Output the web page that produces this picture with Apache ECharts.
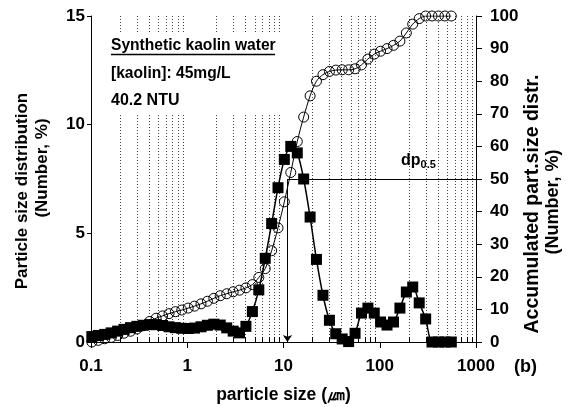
<!DOCTYPE html>
<html><head><meta charset="utf-8">
<script src="https://cdn.jsdelivr.net/npm/echarts@6/dist/echarts.min.js"></script>
<style>html,body{margin:0;padding:0;background:#fff;}#c{width:571px;height:407px;}</style>
</head><body><div id="c"></div>
<script>
// particle size bins (µm)
const sizes = [0.102,0.119,0.139,0.162,0.189,0.220,0.257,0.300,0.349,0.407,0.475,0.554,0.646,0.753,0.877,
  1.023,1.19,1.39,1.62,1.89,2.20,2.57,3.00,3.49,4.07,4.75,5.54,6.46,7.53,8.77,
  10.2,11.9,13.9,16.2,18.9,22.0,25.7,30.0,34.9,40.7,47.5,55.4,64.6,75.3,87.7,
  102,119,139,162,189,220,257,300,349,407,475,554];
// particle size distribution (Number, %) - left axis
const distribution = [0.25,0.30,0.35,0.42,0.50,0.58,0.66,0.72,0.77,0.80,0.80,0.76,0.70,0.66,0.63,
  0.62,0.64,0.70,0.77,0.82,0.78,0.65,0.50,0.42,0.72,1.40,2.40,3.85,5.45,7.10,
  8.40,9.00,8.70,7.50,5.75,3.80,2.15,1.00,0.38,0.14,0.02,0.40,1.33,1.56,1.33,
  0.92,0.78,0.92,1.56,2.30,2.53,1.80,1.06,0,0,0,0];
// accumulated particle size distribution (Number, %) - right axis
const accumulated = [0,0.5,1.0,1.4,2.0,2.7,3.3,4.0,5.0,6.3,7.3,8.0,8.7,9.3,9.8,
  10.4,11.0,11.7,12.5,13.4,14.2,14.8,15.4,15.9,16.6,17.6,19.8,22.5,28.0,35.0,
  43.0,52.0,61.5,69.0,75.5,80.0,82.0,83.0,83.4,83.5,83.5,83.8,85.0,86.8,88.3,
  89.2,90.0,91.0,92.3,94.8,97.5,99.2,100,100,100,100,100];
const xTickLabels = ['0.1','1','10','100','1000'];
const minorGrid = [0.2,0.3,0.4,0.5,0.6,0.7,0.8,0.9,2,3,4,5,6,7,8,9,20,30,40,50,60,70,80,90,200,300,400,500,600,700,800,900];
const dp50 = 11;
const FONT = 'Liberation Sans, Arial, sans-serif';

const chart = echarts.init(document.getElementById('c'), null, {renderer:'canvas'});
chart.setOption({
  animation:false,
  backgroundColor:'#fff',
  grid:{left:91, right:95, top:16, bottom:65, containLabel:false, outerBoundsMode:'none'},
  xAxis:{
    type:'log', min:0.1, max:1000, logBase:10,
    name:'particle size (㎛)', nameLocation:'middle', nameGap:44,
    nameTextStyle:{color:'#000', fontFamily:FONT, fontWeight:'bold', fontSize:17.5},
    axisLine:{lineStyle:{color:'#000', width:1}},
    axisTick:{show:true, length:6, lineStyle:{color:'#000'}},
    splitLine:{show:false},
    axisLabel:{color:'#000', fontFamily:FONT, fontWeight:'bold', fontSize:17, margin:16,
      formatter:function(v){ return xTickLabels[Math.round(Math.log10(v))+1]; }}
  },
  yAxis:[{
    type:'value', min:0, max:15, interval:5, position:'left',
    axisLine:{show:true, lineStyle:{color:'#000'}},
    axisTick:{show:true, length:4, lineStyle:{color:'#000'}},
    splitLine:{show:false},
    axisLabel:{color:'#000', fontFamily:FONT, fontWeight:'bold', fontSize:17, margin:6}
  },{
    type:'value', min:0, max:100, interval:10, position:'right',
    axisLine:{show:true, lineStyle:{color:'#000'}},
    axisTick:{show:true, length:6, lineStyle:{color:'#000'}},
    splitLine:{show:false},
    axisLabel:{color:'#000', fontFamily:FONT, fontWeight:'bold', fontSize:17, margin:14}
  }],
  graphic:{elements:[
    {type:'rect', z:5, shape:{x:105, y:34, width:181, height:79}, style:{fill:'#fff'}},
    {type:'text', z:6, left:111, top:38, style:{text:'Synthetic kaolin water', fill:'#000', font:'bold 15.6px '+FONT}},
    {type:'line', z:6, shape:{x1:111, y1:54.5, x2:275, y2:54.5}, style:{stroke:'#000', lineWidth:1.5}},
    {type:'text', z:6, left:111, top:66, style:{text:'[kaolin]: 45mg/L', fill:'#000', font:'bold 15.6px '+FONT}},
    {type:'text', z:6, left:111, top:93, style:{text:'40.2 NTU', fill:'#000', font:'bold 16px '+FONT}},
    {type:'text', z:6, left:401, top:153, style:{text:'{a|dp}{b|0.5}', rich:{a:{font:'bold 16px '+FONT, fill:'#000'}, b:{font:'bold 11px '+FONT, fill:'#000', padding:[8,0,0,0]}}}},
    {type:'text', z:6, left:514, top:358, style:{text:'(b)', fill:'#000', font:'bold 18px '+FONT}},
    {type:'text', z:6, x:22, y:191, rotation:Math.PI/2, style:{text:'Particle size distribution', fill:'#000', font:'bold 17px '+FONT, align:'center', verticalAlign:'middle'}},
    {type:'text', z:6, x:42, y:168, rotation:Math.PI/2, style:{text:'(Number, %)', fill:'#000', font:'bold 17px '+FONT, align:'center', verticalAlign:'middle'}},
    {type:'text', z:6, x:533, y:204, rotation:Math.PI/2, style:{text:'Accumulated part.size distr.', fill:'#000', font:'bold 19.5px '+FONT, align:'center', verticalAlign:'middle'}},
    {type:'text', z:6, x:553, y:202, rotation:Math.PI/2, style:{text:'(Number, %)', fill:'#000', font:'bold 18px '+FONT, align:'center', verticalAlign:'middle'}}
  ]},
  series:[
    {
      type:'custom', xAxisIndex:0, yAxisIndex:0, silent:true, z:0,
      data:minorGrid.map(v=>[v,0]),
      encode:{x:0, y:1},
      renderItem:function(params, api){
        const v = api.value(0);
        const b = api.coord([v,0]);
        const t = api.coord([v,15]);
        const x = Math.round(b[0])+0.5;
        return {type:'group', children:[
          {type:'line', shape:{x1:x, y1:t[1], x2:x, y2:b[1]}, style:{stroke:'#444', lineWidth:1, lineDash:[1,2]}},
          {type:'line', shape:{x1:x, y1:b[1], x2:x, y2:b[1]-5}, style:{stroke:'#000', lineWidth:1}}
        ]};
      }
    },
    {
      type:'line', yAxisIndex:1, z:10,
      data:sizes.map((s,i)=>[s, accumulated[i]]),
      smooth:0.3, symbol:'circle', symbolSize:10,
      itemStyle:{color:'rgba(255,255,255,0)', borderColor:'#000', borderWidth:1},
      lineStyle:{color:'#000', width:1},
      markLine:{
        silent:true, symbol:['none','none'], animation:false,
        label:{show:false},
        lineStyle:{color:'#000', type:'solid', width:1},
        data:[
          [{coord:[dp50,50]},{coord:[1000,50]}],
          [{coord:[dp50,50], symbol:'none'},{coord:[dp50,0], symbol:'arrow', symbolSize:7}]
        ]
      }
    },
    {
      type:'line', yAxisIndex:0, z:11,
      data:sizes.map((s,i)=>[s, distribution[i]]),
      smooth:0.3, symbol:'rect', symbolSize:11,
      itemStyle:{color:'#000'},
      lineStyle:{color:'#000', width:1.5}
    }
  ]
});
</script>
</body></html>
